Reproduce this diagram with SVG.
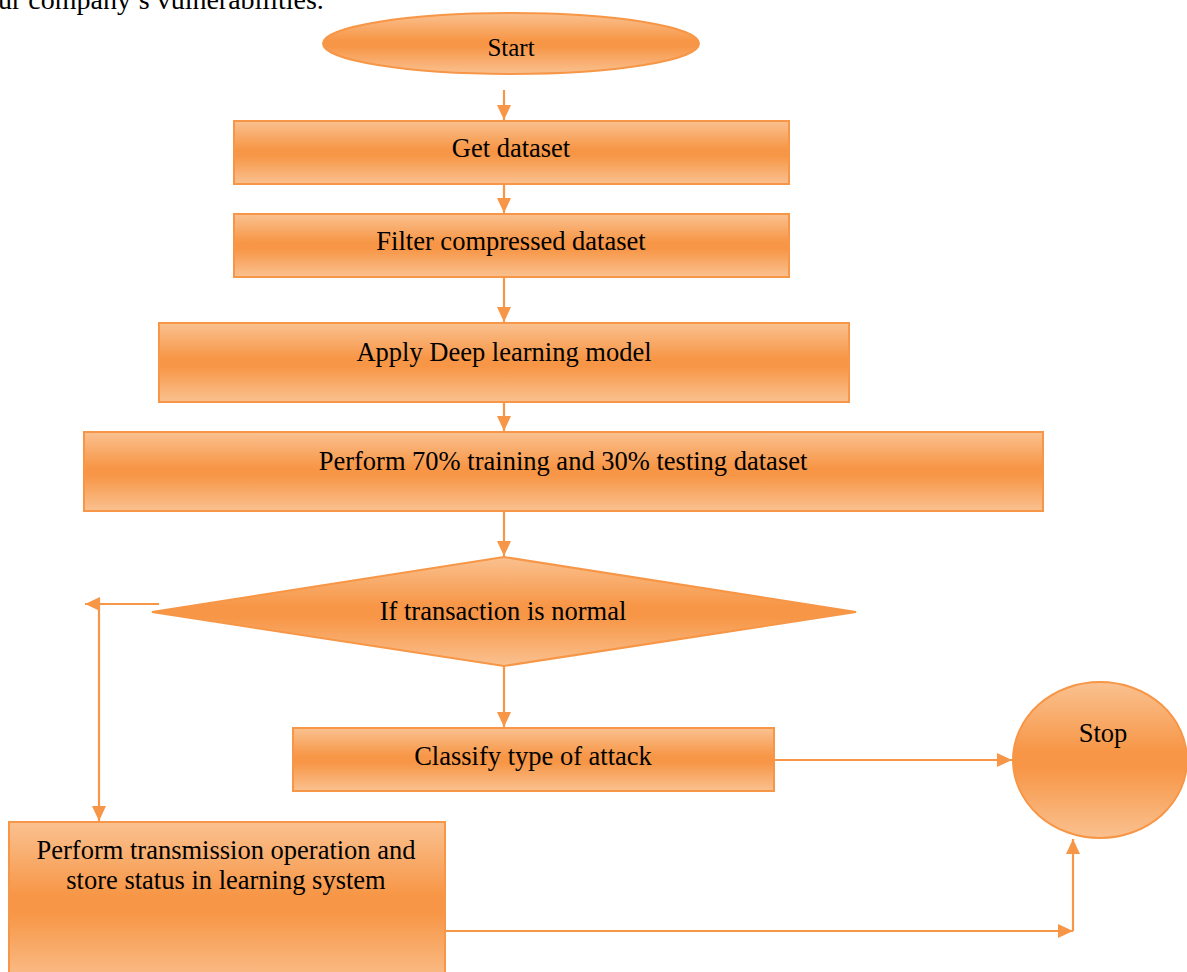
<svg xmlns="http://www.w3.org/2000/svg" width="1187" height="972" viewBox="0 0 1187 972">
<style>
.t{font-family:"Liberation Serif","Times New Roman",serif;font-size:26.5px;fill:#000;text-anchor:middle}
.n{stroke:#f79646;stroke-width:2}
.c{fill:none;stroke:#f79646;stroke-width:2.2}
</style>
<defs>
<linearGradient id="g" x1="0" y1="0" x2="0" y2="1">
<stop offset="0" stop-color="#fac190"/>
<stop offset="0.45" stop-color="#f79646"/>
<stop offset="0.55" stop-color="#f79646"/>
<stop offset="1" stop-color="#fac190"/>
</linearGradient>
<marker id="a" markerUnits="userSpaceOnUse" markerWidth="15" markerHeight="14" refX="15" refY="7" orient="auto">
<path d="M0,0 L15,7 L0,14 z" fill="#f79646"/>
</marker>
</defs>
<text x="-2" y="9" class="t" style="text-anchor:start;font-size:28px">ur company’s vulnerabilities.</text>
<g id="connectors">
<path class="c" d="M504,90 L504,120" marker-end="url(#a)"/>
<path class="c" d="M504,184 L504,213" marker-end="url(#a)"/>
<path class="c" d="M504,277 L504,322" marker-end="url(#a)"/>
<path class="c" d="M504,402 L504,431" marker-end="url(#a)"/>
<path class="c" d="M504,511 L504,556" marker-end="url(#a)"/>
<path class="c" d="M504,666 L504,727" marker-end="url(#a)"/>
<path class="c" d="M159,604 L85,604" marker-end="url(#a)"/>
<path class="c" d="M99,598 L99,821" marker-end="url(#a)"/>
<path class="c" d="M774,760 L1012,760" marker-end="url(#a)"/>
<path class="c" d="M445,931 L1073,931" marker-end="url(#a)"/>
<path class="c" d="M1073,931 L1073,839" marker-end="url(#a)"/>
</g>
<g id="start">
<ellipse class="n" cx="511" cy="43.5" rx="188" ry="30.5" fill="url(#g)"/>
<text class="t" x="511" y="56" style="font-size:25px">Start</text>
</g>
<g id="get">
<rect class="n" x="234" y="121" width="555" height="63" fill="url(#g)"/>
<text class="t" x="511" y="157">Get dataset</text>
</g>
<g id="filter">
<rect class="n" x="234" y="214" width="555" height="63" fill="url(#g)"/>
<text class="t" x="511" y="250">Filter compressed dataset</text>
</g>
<g id="apply">
<rect class="n" x="159" y="323" width="690" height="79" fill="url(#g)"/>
<text class="t" x="504" y="361">Apply Deep learning model</text>
</g>
<g id="perform">
<rect class="n" x="84" y="432" width="959" height="79" fill="url(#g)"/>
<text class="t" x="563" y="470">Perform 70% training and 30% testing dataset</text>
</g>
<g id="decision">
<polygon class="n" points="504,557 856,612 504,666 152,612" fill="url(#g)"/>
<text class="t" x="503" y="620">If transaction is normal</text>
</g>
<g id="classify">
<rect class="n" x="293" y="728" width="481" height="63" fill="url(#g)"/>
<text class="t" x="533" y="765">Classify type of attack</text>
</g>
<g id="stop">
<ellipse class="n" cx="1100" cy="760" rx="87" ry="78" fill="url(#g)"/>
<text class="t" x="1103" y="742">Stop</text>
</g>
<g id="transmission">
<rect class="n" x="9" y="822" width="436" height="165" fill="url(#g)"/>
<text class="t" x="226" y="859">Perform transmission operation and</text>
<text class="t" x="226" y="889">store status in learning system</text>
</g>
</svg>
